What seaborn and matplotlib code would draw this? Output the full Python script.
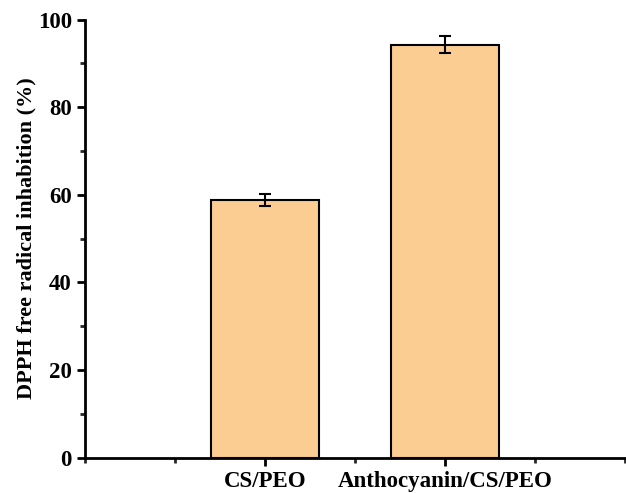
import matplotlib
matplotlib.use("Agg")
import matplotlib.pyplot as plt
from matplotlib.ticker import MultipleLocator, FixedLocator
import seaborn as sns
import pandas as pd

# DPPH radical scavenging of the two fibre mats
samples = ["CS/PEO", "Anthocyanin/CS/PEO"]
inhibition = [58.8, 94.3]
inhibition_sd = [1.4, 2.0]

sns.set_theme(style="ticks")
plt.rcParams["font.family"] = ["Liberation Serif", "DejaVu Serif"]
plt.rcParams["font.weight"] = "bold"
plt.rcParams["text.color"] = "black"
plt.rcParams["axes.labelcolor"] = "black"

df = pd.DataFrame({"sample": samples, "inhibition": inhibition})

fig = plt.figure(figsize=(6.26, 4.93), dpi=100)
ax = fig.add_axes([0.136, 0.072, 0.862, 0.888])

sns.barplot(data=df, x="sample", y="inhibition", order=samples,
            color="#FCCD93", saturation=1, width=0.6,
            edgecolor="black", linewidth=1.5, errorbar=None, ax=ax)

xpos = range(len(samples))
ax.errorbar(list(xpos), inhibition, yerr=inhibition_sd, fmt="none",
            ecolor="black", elinewidth=1.5, capsize=4, capthick=1.5, zorder=5)

ax.set_xlim(-1, 2)
ax.set_ylim(0, 100)
ax.yaxis.set_major_locator(MultipleLocator(20))
ax.yaxis.set_minor_locator(MultipleLocator(10))
ax.xaxis.set_minor_locator(FixedLocator([-1, -0.5, 0.5, 1.5, 2]))

ax.set_xlabel("")
ax.set_ylabel("DPPH free radical inhabition (%)", fontsize=16, fontweight="bold",
              color="black", labelpad=1)

sns.despine(ax=ax)
for side in ("left", "bottom"):
    ax.spines[side].set_linewidth(2)
    ax.spines[side].set_color("black")

ax.tick_params(axis="both", which="major", direction="out", length=6, width=2,
               labelsize=16.5, colors="black")
ax.tick_params(axis="both", which="minor", direction="out", length=3.5, width=2)
for lab in ax.get_xticklabels() + ax.get_yticklabels():
    lab.set_fontweight("bold")

fig.savefig("out.png", dpi=100)
